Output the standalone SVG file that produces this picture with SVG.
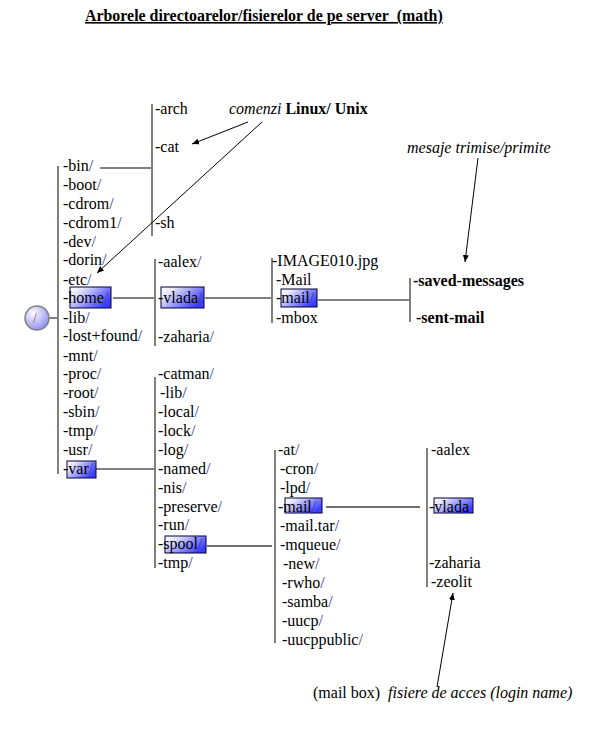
<svg xmlns="http://www.w3.org/2000/svg" width="612" height="734" viewBox="0 0 612 734">
<defs>
<linearGradient id="bx" x1="0" y1="0" x2="1" y2="0.6">
<stop offset="0" stop-color="#ffffff"/>
<stop offset="0.25" stop-color="#e6e6ff"/>
<stop offset="1" stop-color="#3c3cff"/>
</linearGradient>
<radialGradient id="cg" cx="0.35" cy="0.3" r="0.8">
<stop offset="0" stop-color="#ffffff"/>
<stop offset="1" stop-color="#8585f0"/>
</radialGradient>
<marker id="ah" markerWidth="8" markerHeight="8" refX="7" refY="4" orient="auto" markerUnits="userSpaceOnUse">
<path d="M0,1 L7,4 L0,7 z" fill="#000"/>
</marker>
<style>
text{font-family:"Liberation Serif","Times New Roman",serif;font-size:16px;fill:#000}
.s{fill:#3a3a9a}
.b{font-weight:bold}
.i{font-style:italic}
.t{font-size:15.9px;font-weight:bold;text-decoration:underline}
.g{stroke:#808080;stroke-width:2;fill:none}
.k{stroke:#000;stroke-width:1;fill:none}
.d{stroke:#404040;stroke-width:1.3;fill:none}
.bx{fill:url(#bx);stroke:#000033;stroke-width:1}
.ar{stroke:#000;stroke-width:1;fill:none;marker-end:url(#ah)}
</style>
</defs>
<rect width="612" height="734" fill="#fff"/>
<text class="t" x="85" y="21">Arborele directoarelor/fisierelor de pe server&#160; (math)</text>

<g id="connectors">
<line class="g" x1="49" y1="318" x2="58" y2="318"/>
<line class="g" x1="58" y1="166" x2="58" y2="474"/>
<line class="k" x1="100" y1="168" x2="152" y2="168"/>
<line class="g" x1="152" y1="104" x2="152" y2="236"/>
<line class="g" x1="113" y1="298" x2="155" y2="298"/>
<line class="g" x1="155" y1="259" x2="155" y2="346"/>
<line class="g" x1="205" y1="298" x2="272" y2="298"/>
<line class="g" x1="272" y1="258" x2="272" y2="323"/>
<line class="g" x1="318" y1="300" x2="410" y2="300"/>
<line class="g" x1="410" y1="278" x2="410" y2="322"/>
<line class="k" x1="96" y1="469" x2="155" y2="469"/>
<line class="g" x1="155" y1="377" x2="155" y2="568"/>
<line class="d" x1="207" y1="546" x2="272" y2="546"/>
<line class="g" x1="275" y1="450" x2="275" y2="643"/>
<line class="d" x1="326" y1="507" x2="420" y2="507"/>
<line class="g" x1="427" y1="448" x2="427" y2="587"/>
<line class="ar" x1="248" y1="122" x2="192" y2="144"/>
<line class="ar" x1="262" y1="122" x2="97" y2="273"/>
<line class="ar" x1="478" y1="158" x2="465" y2="262"/>
<line class="ar" x1="437" y1="687" x2="453" y2="593"/>
</g>

<g id="root">
<circle cx="37" cy="318" r="12" fill="url(#cg)" stroke="#808080" stroke-width="1.5"/>
<text x="33" y="323" style="font-size:14px;fill:#994466">/</text>
</g>

<g id="col-root">
<text x="63" y="171">-bin<tspan class="s">/</tspan></text>
<text x="63" y="190">-boot<tspan class="s">/</tspan></text>
<text x="63" y="209">-cdrom<tspan class="s">/</tspan></text>
<text x="63" y="228">-cdrom1<tspan class="s">/</tspan></text>
<text x="63" y="247">-dev<tspan class="s">/</tspan></text>
<text x="63" y="265">-dorin<tspan class="s">/</tspan></text>
<text x="63" y="285">-etc<tspan class="s">/</tspan></text>
<g id="home"><rect class="bx" x="70" y="287" width="41" height="21"/><text x="63" y="303">-home<tspan class="s">/</tspan></text></g>
<text x="63" y="323">-lib<tspan class="s">/</tspan></text>
<text x="63" y="341">-lost+found<tspan class="s">/</tspan></text>
<text x="63" y="361">-mnt<tspan class="s">/</tspan></text>
<text x="63" y="379">-proc<tspan class="s">/</tspan></text>
<text x="63" y="398">-root<tspan class="s">/</tspan></text>
<text x="63" y="417">-sbin<tspan class="s">/</tspan></text>
<text x="63" y="436">-tmp<tspan class="s">/</tspan></text>
<text x="63" y="455">-usr<tspan class="s">/</tspan></text>
<g id="var"><rect class="bx" x="67" y="461" width="29" height="17"/><text x="63" y="474">-var<tspan class="s">/</tspan></text></g>
</g>

<g id="col-bin">
<text x="155" y="114">-arch</text>
<text x="155" y="152">-cat</text>
<text x="155" y="228">-sh</text>
</g>

<g id="col-home">
<text x="158" y="267">-aalex<tspan class="s">/</tspan></text>
<g id="vlada1"><rect class="bx" x="161" y="287" width="43" height="21"/><text x="158" y="303">-vlada<tspan class="s">/</tspan></text></g>
<text x="158" y="342">-zaharia<tspan class="s">/</tspan></text>
</g>

<g id="col-vlada">
<text x="272" y="266">-IMAGE010.jpg</text>
<text x="276" y="285">-Mail</text>
<g id="mail1"><rect class="bx" x="281" y="289" width="36" height="18"/><text x="276" y="303">-mail<tspan class="s">/</tspan></text></g>
<text x="276" y="323">-mbox</text>
</g>

<g id="col-mail">
<text class="b" x="413" y="286">-saved-messages</text>
<text class="b" x="416" y="323">-sent-mail</text>
</g>

<g id="col-var">
<text x="158" y="379">-catman<tspan class="s">/</tspan></text>
<text x="160" y="398">-lib<tspan class="s">/</tspan></text>
<text x="158" y="417">-local<tspan class="s">/</tspan></text>
<text x="158" y="436">-lock<tspan class="s">/</tspan></text>
<text x="158" y="455">-log<tspan class="s">/</tspan></text>
<text x="158" y="474">-named<tspan class="s">/</tspan></text>
<text x="158" y="493">-nis<tspan class="s">/</tspan></text>
<text x="158" y="512">-preserve<tspan class="s">/</tspan></text>
<text x="158" y="530">-run<tspan class="s">/</tspan></text>
<g id="spool"><rect class="bx" x="165" y="536" width="41" height="17"/><text x="158" y="549">-spool<tspan class="s">/</tspan></text></g>
<text x="158" y="568">-tmp<tspan class="s">/</tspan></text>
</g>

<g id="col-spool">
<text x="278" y="455">-at<tspan class="s">/</tspan></text>
<text x="280" y="474">-cron<tspan class="s">/</tspan></text>
<text x="280" y="493">-lpd<tspan class="s">/</tspan></text>
<g id="mail2"><rect class="bx" x="285" y="498" width="37" height="15"/><text x="278" y="512">-mail<tspan class="s">/</tspan></text></g>
<text x="280" y="531">-mail.tar<tspan class="s">/</tspan></text>
<text x="280" y="550">-mqueue<tspan class="s">/</tspan></text>
<text x="283" y="569">-new<tspan class="s">/</tspan></text>
<text x="282" y="588">-rwho<tspan class="s">/</tspan></text>
<text x="282" y="607">-samba<tspan class="s">/</tspan></text>
<text x="282" y="626">-uucp<tspan class="s">/</tspan></text>
<text x="282" y="645">-uucppublic<tspan class="s">/</tspan></text>
</g>

<g id="col-mail2">
<text x="431" y="455">-aalex</text>
<g id="vlada2"><rect class="bx" x="434" y="498" width="39" height="15"/><text x="429" y="512">-vlada</text></g>
<text x="429" y="568">-zaharia</text>
<text x="431" y="587">-zeolit</text>
</g>

<g id="notes">
<text x="229" y="114"><tspan class="i">comenzi </tspan><tspan class="b">Linux/ Unix</tspan></text>
<text class="i" x="407" y="153">mesaje trimise/primite</text>
<text x="313" y="698">(mail box)&#160; <tspan class="i">fisiere de acces (login name)</tspan></text>
</g>
</svg>
